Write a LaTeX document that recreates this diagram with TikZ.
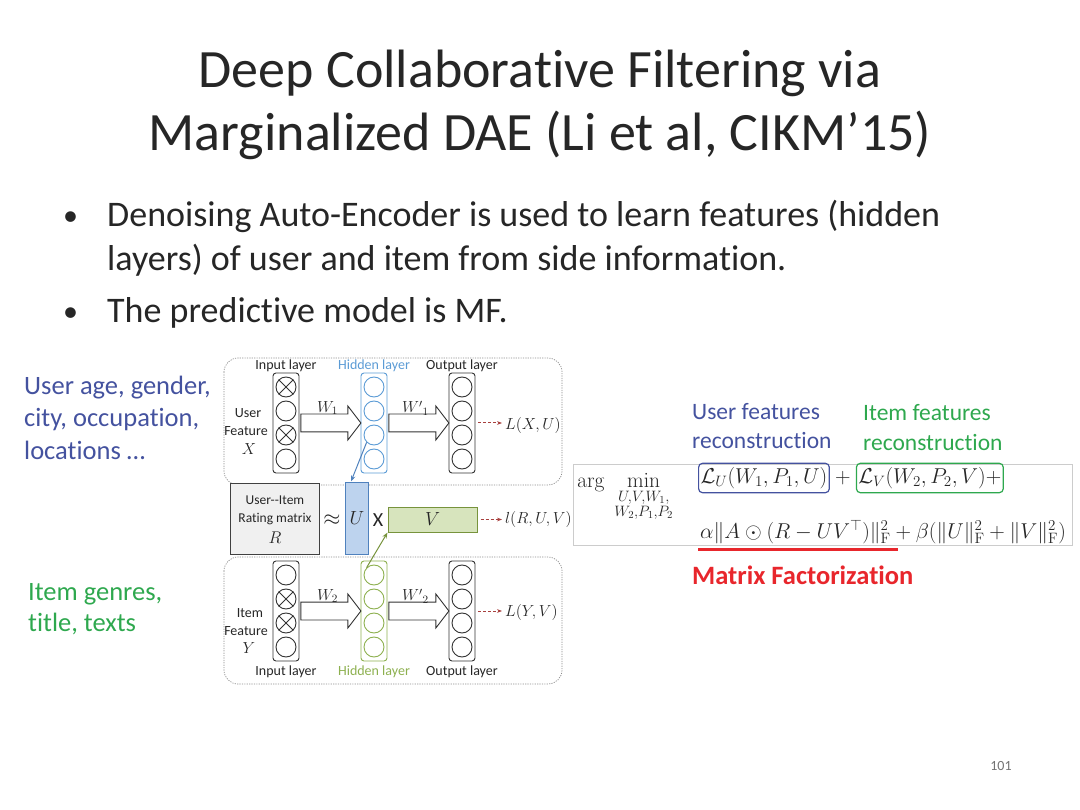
\RequirePackage{fix-cm}
\documentclass[tikz,border=0pt]{standalone}
\usepackage{amsmath}
\usepackage[no-math]{fontspec}
\setmainfont{Carlito}[Ligatures={TeX,NoCommon}]
\usetikzlibrary{positioning,shapes.arrows,arrows.meta}
\definecolor{ink}{HTML}{262626}
\definecolor{userblue}{HTML}{44529F}
\definecolor{itemgreen}{HTML}{2EA84E}
\definecolor{hidblue}{HTML}{5B9BD5}
\definecolor{hidgreen}{HTML}{8DB04F}
\definecolor{ufill}{HTML}{BDD3EE}
\definecolor{uline}{HTML}{4F81BD}
\definecolor{vfill}{HTML}{D7E4BD}
\definecolor{vline}{HTML}{77933C}
\definecolor{mfred}{HTML}{E8262C}
\definecolor{lossred}{HTML}{A8403E}
\tikzset{
  layer/.style={draw=black!80,line width=0.9pt,rounded corners=3pt,minimum width=26pt,minimum height=100pt},
  unit/.style={draw=black!80,line width=0.9pt,circle,minimum size=20pt},
  blockarr/.style={single arrow,draw=black!80,fill=white,line width=0.9pt,inner xsep=0pt,inner ysep=8.5pt,
    single arrow head extend=8pt,single arrow tip angle=105,minimum height=60pt,anchor=west},
  lossarr/.style={draw=lossred,dash pattern=on 3pt off 2pt,line width=1pt,-{Stealth[length=5pt]}},
  dasharea/.style={draw=black!45,dash pattern=on 1.2pt off 1.2pt,rounded corners=14pt,line width=0.7pt},
  lossbox/.style={draw=#1,line width=1.2pt,rounded corners=4pt,inner xsep=2pt,inner ysep=4pt},
  smalllbl/.style={font=\fontsize{14}{16}\selectfont,text=ink},
  mathlbl/.style={font=\fontsize{16}{18}\selectfont,text=ink},
  titletext/.style={font=\fontsize{54}{60}\selectfont,text=ink,anchor=base},
  bullettext/.style={font=\fontsize{36}{40}\selectfont,text=ink,anchor=base west},
  sidetext/.style={font=\fontsize{26.5}{30}\selectfont,anchor=base west},
  recontext/.style={font=\fontsize{23.5}{27}\selectfont,anchor=base west},
  formula/.style={font=\fontsize{21.5}{24}\selectfont,text=black!85},
}
\begin{document}
\begin{tikzpicture}[x=1pt,y=-1pt,every node/.style={inner sep=0pt}]
\useasboundingbox (0,0) rectangle (1080,810);
%% title and bullets
\node[titletext] (title1) at (540,88) {Deep Collaborative Filtering via};
\node[titletext] (title2) at (540,151) {Marginalized DAE (Li et al, CIKM’15)};
\node[bullettext] (bul1) at (107,227) {Denoising Auto-Encoder is used to learn features (hidden};
\node[bullettext] (bul1b) at (107,271) {layers) of user and item from side information.};
\node[bullettext] (bul2) at (107,323) {The predictive model is MF.};
\foreach \y/\n in {227/dot1,323/dot2}
    \node[bullettext,font=\fontsize{30}{32}\selectfont] (\n) at (63,{\y-1}) {•};
%% side information
\node[sidetext,text=userblue] (uside1) at (24,395) {User age, gender,};
\node[sidetext,text=userblue] (uside2) at (24,427) {city, occupation,};
\node[sidetext,text=userblue] (uside3) at (24,460) {locations …};
\node[sidetext,text=itemgreen] (iside1) at (28,600) {Item genres,};
\node[sidetext,text=itemgreen] (iside2) at (28,631) {title, texts};
%% autoencoders
\draw[dasharea] (224,358) rectangle (562,485);
\draw[dasharea] (224,557) rectangle (562,684);
\foreach \p/\yc/\hc in {u/423/hidblue,i/611/hidgreen}{
    \node[layer] (\p-in) at (286,\yc) {};
    \node[layer,draw=\hc] (\p-hid) at (374,\yc) {};
    \node[layer] (\p-out) at (462,\yc) {};
    \foreach \k in {1,...,4}{
        \node[unit] (\p-in\k) at (286,{\yc-60+24*\k}) {};
        \node[unit,draw=\hc] (\p-hid\k) at (374,{\yc-60+24*\k}) {};
        \node[unit] (\p-out\k) at (462,{\yc-60+24*\k}) {};
    }
    \node[blockarr] (\p-w) at ([xshift=1pt]\p-in.east) {};
    \node[blockarr] (\p-wp) at ([xshift=1pt]\p-hid.east) {};
}
\foreach \cc in {u-in1,u-in3,i-in2,i-in3}
    \draw[black!80,line width=0.9pt] (\cc.north west) -- (\cc.south east) (\cc.north east) -- (\cc.south west);
\node[mathlbl] (uwlbl) at ([yshift=15pt]u-w.center) {$W_1$};
\node[mathlbl] (uwplbl) at ([yshift=15pt]u-wp.center) {${W'}_1$};
\node[mathlbl] (iwlbl) at ([yshift=15pt]i-w.center) {$W_2$};
\node[mathlbl] (iwplbl) at ([yshift=15pt]i-wp.center) {${W'}_2$};
%% layer names
\node[smalllbl] (uinlbl) at (286,366) {Input layer};
\node[smalllbl,text=hidblue] (uhidlbl) at (374,366) {Hidden layer};
\node[smalllbl] (uoutlbl) at (462,366) {Output layer};
\node[smalllbl] (iinlbl) at (286,672) {Input layer};
\node[smalllbl,text=hidgreen] (ihidlbl) at (374,672) {Hidden layer};
\node[smalllbl] (ioutlbl) at (462,672) {Output layer};
\node[smalllbl] (ufeat1) at (248,413) {User};
\node[smalllbl] (ufeat2) at (246,431) {Feature};
\node[mathlbl] (ufeat3) at (249,449) {$X$};
\node[smalllbl] (ifeat1) at (250,613) {Item};
\node[smalllbl] (ifeat2) at (246,631) {Feature};
\node[mathlbl] (ifeat3) at (249,648) {$Y$};
%% factorization
\node[draw=black!75,fill=black!6,line width=1.4pt,minimum width=89pt,minimum height=71pt] (rating) at (275,519) {};
\node[smalllbl,font=\fontsize{13.5}{15}\selectfont] (rating1) at (275,500) {User-{}-Item};
\node[smalllbl,font=\fontsize{13.5}{15}\selectfont] (rating2) at (275,519) {Rating matrix};
\node[mathlbl,font=\fontsize{17}{19}\selectfont] (rating3) at (275,538) {$R$};
\node[mathlbl,font=\fontsize{22}{24}\selectfont] (approx) at (332,520) {$\approx$};
\node[draw=uline,fill=ufill,line width=1pt,minimum width=23pt,minimum height=72pt,mathlbl,font=\fontsize{19}{21}\selectfont] (U) at (357,518) {$U$};
\node[smalllbl,font=\fontsize{20}{22}\selectfont] (times) at (378,520) {X};
\node[draw=vline,fill=vfill,line width=1pt,minimum width=89pt,minimum height=25pt,mathlbl,font=\fontsize{19}{21}\selectfont] (V) at (432.5,519.5) {$V$};
%% losses
\node[mathlbl,anchor=west] (ulossx) at (505,426) {$L(X,U)$};
\node[mathlbl,anchor=west] (rloss) at (505,519) {$l(R,U,V)$};
\node[mathlbl,anchor=west] (ilossy) at (505,612) {$L(Y,V)$};
\draw[lossarr] ([xshift=3pt]u-out.east) -- ([xshift=-3pt]ulossx.west |- u-out.east);
\draw[lossarr] ([xshift=3pt]V.east) -- ([xshift=-3pt]rloss.west |- V.east);
\draw[lossarr] ([xshift=3pt]i-out.east) -- ([xshift=-3pt]ilossy.west |- i-out.east);
%% hidden layers give U and V
\draw[uline,line width=1pt,-{Stealth[length=6pt]}] (u-hid3.south west) -- ([xshift=-6pt]U.north);
\draw[vline,line width=1pt,-{Stealth[length=6pt]}] (i-hid1.north west) -- (V.south west);
%% objective
\node[recontext,text=userblue] (urec1) at (692,420) {User features};
\node[recontext,text=userblue] (urec2) at (692,449) {reconstruction};
\node[recontext,text=itemgreen] (irec1) at (863,421) {Item features};
\node[recontext,text=itemgreen] (irec2) at (863,450) {reconstruction};
\draw[black!20,line width=0.6pt] (573,464) rectangle (1072,545);
\node[formula,anchor=base west] (argmin) at (577,488) {$\arg\;\displaystyle\min_{\substack{U,V,W_1,\\W_2,P_1,P_2}}$};
\node[formula,lossbox=userblue,anchor=west] (lossu) at (698,478) {$\mathcal{L}_U(W_1,P_1,U)$};
\node[formula,right=5pt of lossu] (plus) {$+$};
\node[formula,lossbox=itemgreen,right=5pt of plus] (lossv) {$\mathcal{L}_V(W_2,P_2,V)+$};
\node[formula,anchor=base west] (mfterm) at (700,538) {$\alpha\|A\odot(R-UV^{\top})\|_{\mathrm{F}}^2+\beta(\|U\|_{\mathrm{F}}^2+\|V\|_{\mathrm{F}}^2)$};
\draw[mfred,line width=3pt] (698,549) -- (898,549);
\node[recontext,text=mfred,font=\bfseries\fontsize{26.5}{29}\selectfont] (mflbl) at (692,584) {Matrix Factorization};
%% page number
\node[smalllbl,text=black!55] (pagenum) at (1001,766) {101};
\end{tikzpicture}
\end{document}
